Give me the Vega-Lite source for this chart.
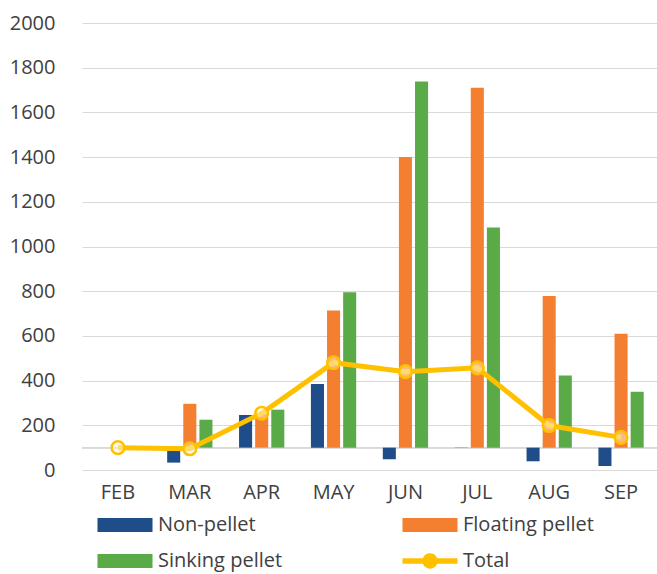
{
  "$schema": "https://vega.github.io/schema/vega-lite/v6.json",
  "width": 575,
  "height": 447,
  "autosize": {"type": "none"},
  "padding": {"left": 82, "top": 23, "right": 0, "bottom": 104},
  "background": "white",
  "config": {
    "font": "Open Sans",
    "view": {"stroke": null},
    "axis": {"labelFont": "Open Sans", "labelFontSize": 20, "labelColor": "#404040", "labelFontWeight": "normal"},
    "legend": {"labelFont": "Open Sans", "labelFontSize": 20, "labelColor": "#404040", "labelFontWeight": "normal"}
  },
  "data": {
    "values": [
      {"month": "FEB", "series": "Total", "value": 100},
      {"month": "MAR", "series": "Non-pellet", "value": 33},
      {"month": "MAR", "series": "Floating pellet", "value": 296},
      {"month": "MAR", "series": "Sinking pellet", "value": 225},
      {"month": "MAR", "series": "Total", "value": 95},
      {"month": "APR", "series": "Non-pellet", "value": 246},
      {"month": "APR", "series": "Floating pellet", "value": 252},
      {"month": "APR", "series": "Sinking pellet", "value": 270},
      {"month": "APR", "series": "Total", "value": 254},
      {"month": "MAY", "series": "Non-pellet", "value": 385},
      {"month": "MAY", "series": "Floating pellet", "value": 714},
      {"month": "MAY", "series": "Sinking pellet", "value": 795},
      {"month": "MAY", "series": "Total", "value": 480},
      {"month": "JUN", "series": "Non-pellet", "value": 48},
      {"month": "JUN", "series": "Floating pellet", "value": 1400},
      {"month": "JUN", "series": "Sinking pellet", "value": 1738},
      {"month": "JUN", "series": "Total", "value": 440},
      {"month": "JUL", "series": "Non-pellet", "value": 99},
      {"month": "JUL", "series": "Floating pellet", "value": 1710},
      {"month": "JUL", "series": "Sinking pellet", "value": 1085},
      {"month": "JUL", "series": "Total", "value": 457},
      {"month": "AUG", "series": "Non-pellet", "value": 39},
      {"month": "AUG", "series": "Floating pellet", "value": 778},
      {"month": "AUG", "series": "Sinking pellet", "value": 423},
      {"month": "AUG", "series": "Total", "value": 199},
      {"month": "SEP", "series": "Non-pellet", "value": 18},
      {"month": "SEP", "series": "Floating pellet", "value": 610},
      {"month": "SEP", "series": "Sinking pellet", "value": 350},
      {"month": "SEP", "series": "Total", "value": 146}
    ]
  },
  "encoding": {
    "x": {
      "field": "month", "type": "nominal", "sort": ["FEB","MAR","APR","MAY","JUN","JUL","AUG","SEP"],
      "scale": {"domain": ["FEB","MAR","APR","MAY","JUN","JUL","AUG","SEP"], "paddingInner": 0.37, "paddingOuter": 0.185},
      "axis": {"title": null, "labelAngle": 0, "domain": false, "ticks": false, "grid": false, "labelPadding": 12}
    }
  },
  "layer": [
    {
      "mark": {"type": "rule", "color": "#D9D9D9", "strokeWidth": 1},
      "encoding": {"y": {"datum": 100, "type": "quantitative"}, "x": null}
    },
    {
      "transform": [{"filter": "datum.series !== 'Total'"}],
      "mark": {"type": "bar"},
      "encoding": {
        "y": {
          "field": "value", "type": "quantitative",
          "scale": {"domain": [0, 2000], "nice": false, "zero": true},
          "axis": {"title": null, "format": "d", "values": [0,200,400,600,800,1000,1200,1400,1600,1800,2000], "domain": false, "ticks": false, "grid": true, "gridColor": "#D9D9D9", "gridWidth": 1, "labelPadding": 27}
        },
        "y2": {"datum": 100},
        "xOffset": {
          "field": "series", "type": "nominal",
          "scale": {"domain": ["Non-pellet", "Floating pellet", "Sinking pellet"], "paddingInner": 0.19, "paddingOuter": 0}
        },
        "color": {
          "field": "series", "type": "nominal",
          "scale": {"domain": ["Non-pellet", "Floating pellet", "Sinking pellet", "Total"], "range": ["#1F4D89", "#F47F31", "#5AAB47", "#FFC000"]},
          "legend": {
            "title": null, "orient": "none", "legendX": 33, "legendY": 492, "columns": 2, "direction": "horizontal",
            "columnPadding": 119, "rowPadding": 16, "padding": 0, "symbolSize": 196, "labelOffset": 23,
            "labelLimit": 300,
            "encode": {
              "symbols": {
                "update": {
                  "shape": {"signal": "datum.value === 'Total' ? 'M-3.93,-0.4H-1.025A1.1,1.1 0 0,1 1.025,-0.4H3.93V0.4H1.025A1.1,1.1 0 0,1 -1.025,0.4H-3.93Z' : 'M-3.93,-1H3.93V1H-3.93Z'"},
                  "fill": {"scale": "color", "field": "value"},
                  "stroke": {"value": "transparent"},
                  "strokeWidth": {"value": 0},
                  "opacity": {"value": 1},
                  "size": {"value": 196}
                }
              }
            }
          }
        }
      }
    },
    {
      "transform": [{"filter": "datum.series === 'Total'"}],
      "mark": {"type": "line", "strokeWidth": 5},
      "encoding": {
        "y": {"field": "value", "type": "quantitative"},
        "color": {"field": "series", "type": "nominal"}
      }
    },
    {
      "transform": [{"filter": "datum.series === 'Total'"}],
      "mark": {"type": "point", "shape": "circle", "size": 160, "stroke": "#FFC000", "strokeWidth": 2.5, "fill": "#FFF6D8", "fillOpacity": 0.5, "opacity": 1},
      "encoding": {
        "y": {"field": "value", "type": "quantitative"}
      }
    }
  ]
}
